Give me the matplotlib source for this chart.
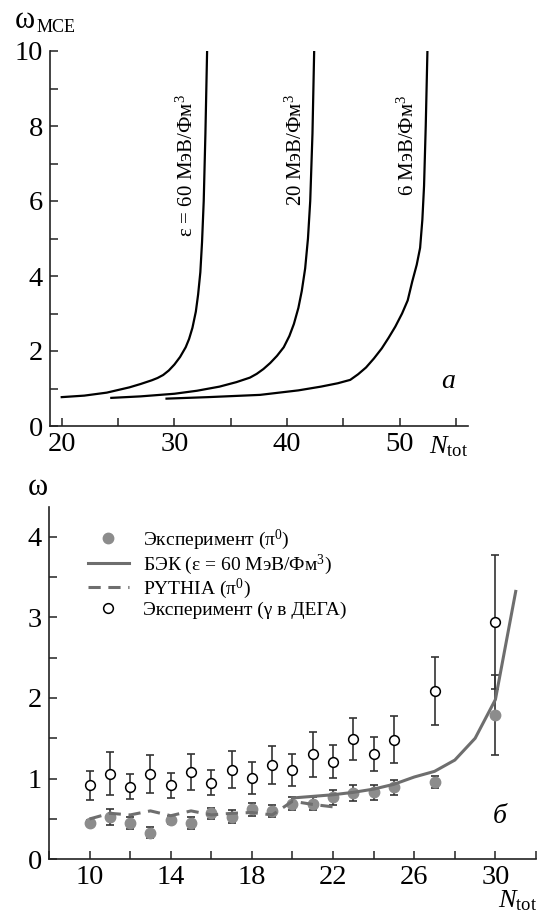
import matplotlib
matplotlib.use("Agg")
import matplotlib.pyplot as plt
from matplotlib.ticker import MultipleLocator

plt.rcParams['font.family'] = ['Liberation Serif', 'DejaVu Serif']
plt.rcParams['mathtext.fontset'] = 'custom'
plt.rcParams['mathtext.rm'] = 'Liberation Serif'
plt.rcParams['mathtext.it'] = 'Liberation Serif:italic'
plt.rcParams['mathtext.bf'] = 'Liberation Serif:bold'

# --- панель а: omega_MCE(N_tot) для трёх плотностей энергии ---
n_60 = [20, 22, 24, 26, 27, 28, 28.5, 29, 29.5, 30, 30.5, 31, 31.3, 31.6, 31.9,
        32.1, 32.3, 32.45, 32.6, 32.75, 32.9]
w_60 = [0.77, 0.81, 0.89, 1.03, 1.12, 1.22, 1.28, 1.36, 1.48, 1.64, 1.84, 2.1, 2.32,
        2.62, 3.05, 3.5, 4.1, 4.9, 6.0, 7.8, 10.0]

n_20 = [24.4, 27, 30, 32, 34, 35.5, 36.7, 37.3, 37.9, 38.5, 39.1, 39.7, 40.2, 40.6,
        41.0, 41.3, 41.6, 41.85, 42.05, 42.25, 42.4]
w_20 = [0.75, 0.79, 0.86, 0.94, 1.05, 1.17, 1.29, 1.39, 1.52, 1.68, 1.87, 2.1, 2.4,
        2.72, 3.15, 3.6, 4.2, 5.0, 6.0, 7.8, 10.0]

n_6 = [29.3, 33, 37.6, 41, 43, 44.5, 45.6, 46.3, 47.0, 47.7, 48.4, 49.0, 49.6, 50.2,
       50.7, 51.1, 51.5, 51.8, 52.0, 52.15, 52.3, 52.45]
w_6 = [0.73, 0.77, 0.83, 0.95, 1.05, 1.14, 1.23, 1.38, 1.56, 1.8, 2.07, 2.35, 2.65,
       3.0, 3.35, 3.85, 4.3, 4.75, 5.5, 6.4, 8.0, 10.0]

# --- панель б: эксперимент и модели ---
n_exp = [10, 11, 12, 13, 14, 15, 16, 17, 18, 19, 20, 21, 22, 23, 24, 25, 27, 30]
w_pi0 = [0.45, 0.52, 0.45, 0.33, 0.49, 0.45, 0.57, 0.53, 0.62, 0.60, 0.69, 0.69, 0.77, 0.82, 0.83, 0.89, 0.955, 1.79]
e_pi0 = [0.04, 0.10, 0.07, 0.07, 0.05, 0.07, 0.065, 0.08, 0.08, 0.07, 0.085, 0.08, 0.095, 0.10, 0.09, 0.09, 0.075, 0.50]
w_gam = [0.92, 1.06, 0.90, 1.06, 0.92, 1.08, 0.95, 1.11, 1.01, 1.165, 1.11, 1.30, 1.21, 1.49, 1.305, 1.48, 2.09, 2.94]
e_gam = [0.18, 0.265, 0.155, 0.235, 0.155, 0.22, 0.155, 0.23, 0.195, 0.235, 0.20, 0.275, 0.205, 0.265, 0.215, 0.29, 0.42, 0.835]

n_bec = [20, 21, 22, 23, 24, 25, 26, 27, 28, 29, 30, 31]
w_bec = [0.76, 0.78, 0.80, 0.83, 0.87, 0.93, 1.02, 1.09, 1.23, 1.50, 1.98, 3.32]

n_pyt = [10, 11, 12, 13, 14, 15, 16, 17, 18, 19, 20, 21, 22]
w_pyt = [0.50, 0.57, 0.55, 0.60, 0.54, 0.60, 0.55, 0.57, 0.58, 0.55, 0.72, 0.68, 0.65]

fig = plt.figure(figsize=(5.43, 9.23), dpi=100)
ax1 = fig.add_axes([50 / 543, 1 - 426 / 923, 418 / 543, 375 / 923])
ax2 = fig.add_axes([49 / 543, 1 - 859.3 / 923, 487 / 543, 352.6 / 923])

for ax in (ax1, ax2):
    for s in ('top', 'right'):
        ax.spines[s].set_visible(False)
    for s in ('left', 'bottom'):
        ax.spines[s].set_linewidth(1.2)
        ax.spines[s].set_color('#222222')
    ax.tick_params(which='both', direction='in', length=6, width=1.1,
                   color='#222222', labelsize=20.5)
    ax.tick_params(axis='x', pad=4)
    ax.tick_params(axis='y', pad=5)

# панель а
for n, w in ((n_60, w_60), (n_20, w_20), (n_6, w_6)):
    ax1.plot(n, w, color='black', lw=1.6, solid_joinstyle='round')
ax1.set_xlim(18.96, 56.05)
ax1.set_ylim(0, 10)
ax1.xaxis.set_minor_locator(MultipleLocator(5))
ax1.yaxis.set_major_locator(MultipleLocator(2))
ax1.yaxis.set_minor_locator(MultipleLocator(1))
ax1.set_xticks([20, 30, 40, 50])

ax1.text(31.1, 8.85, 'ε = 60 МэВ/Фм$^3$', rotation=90, ha='center', va='top', fontsize=15)
ax1.text(40.8, 8.85, '20 МэВ/Фм$^3$', rotation=90, ha='center', va='top', fontsize=15)
ax1.text(50.7, 8.85, '6 МэВ/Фм$^3$', rotation=90, ha='center', va='top', fontsize=15)
ax1.text(54.3, 1.2, 'a', style='italic', fontsize=20, ha='center', va='center')

fig.text(15 / 543, 1 - 28 / 923, 'ω', fontsize=22, va='baseline')
fig.text(37 / 543, 1 - 32 / 923, 'MCE', fontsize=13, va='baseline')
fig.text(468 / 543, 1 - 453 / 923, '$\\mathit{N}_{\\mathrm{tot}}$', fontsize=19,
         ha='right', va='baseline')

# панель б
ax2.errorbar(n_exp, w_pi0, yerr=e_pi0, fmt='none', ecolor='#333333',
             elinewidth=1.2, capsize=3.2, capthick=1.2, zorder=2)
ax2.errorbar(n_exp, w_gam, yerr=e_gam, fmt='none', ecolor='#333333',
             elinewidth=1.2, capsize=3.2, capthick=1.2, zorder=2)
ax2.plot(n_exp, w_pi0, 'o', color='#8c8c8c', ms=7.5, mec='#8c8c8c', zorder=3,
         label='Эксперимент (π$^0$)')
ax2.plot(n_bec, w_bec, '-', color='#6e6e6e', lw=2.2, zorder=4,
         label='БЭК (ε = 60 МэВ/Фм$^3$)')
ax2.plot(n_pyt, w_pyt, '--', color='#6e6e6e', lw=2.2, dashes=(4, 2.5), zorder=4,
         label='PYTHIA (π$^0$)')
ax2.plot(n_exp, w_gam, 'o', mfc='white', mec='black', mew=1.1, ms=7, zorder=5,
         label='Эксперимент (γ в ДЕГА)')

ax2.set_xlim(8, 32)
ax2.set_ylim(0, 4.37)
ax2.set_xticks([10, 14, 18, 22, 26, 30])
ax2.xaxis.set_minor_locator(MultipleLocator(2))
ax2.yaxis.set_major_locator(MultipleLocator(1))
ax2.yaxis.set_minor_locator(MultipleLocator(0.5))

ax2.legend(loc='upper left', bbox_to_anchor=(0.08, 0.94), frameon=False,
           fontsize=14, borderpad=0, borderaxespad=0, labelspacing=0.0,
           handlelength=2.1, handletextpad=0.75)
ax2.text(30.2, 0.53, 'б', style='italic', fontsize=20, ha='center', va='center')

fig.text(28 / 543, 1 - 495 / 923, 'ω', fontsize=22, va='baseline')
fig.text(537 / 543, 1 - 907 / 923, '$\\mathit{N}_{\\mathrm{tot}}$', fontsize=19,
         ha='right', va='baseline')

fig.savefig('out.png', dpi=100)
